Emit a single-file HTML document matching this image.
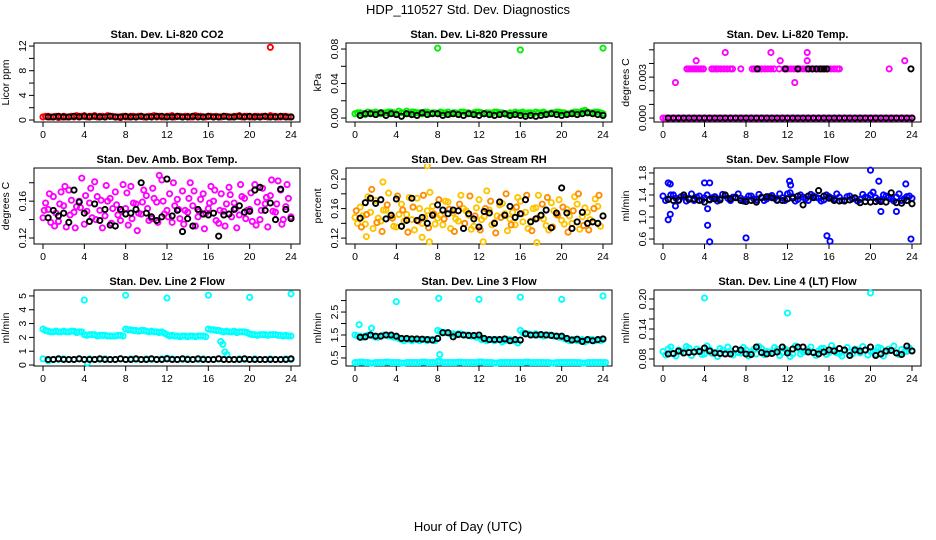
<!DOCTYPE html>
<html><head><meta charset="utf-8"><style>
body{margin:0;background:#fff}
svg{display:block;font-family:"Liberation Sans",Arial,sans-serif}
</style></head><body>
<svg id="chart" width="936" height="540" viewBox="0 0 936 540" xmlns="http://www.w3.org/2000/svg">
<rect width="936" height="540" fill="#fff"/>
<text x="468" y="14" font-size="13" text-anchor="middle">HDP_110527  Std. Dev. Diagnostics</text>
<text x="468" y="531" font-size="13" text-anchor="middle">Hour of Day (UTC)</text>
</svg>
<script>
// ---- data ----
const co2A=[0.5,0.6,0.5,0.4,0.6,0.5,0.5,0.6,0.7,0.6,0.7,0.6,0.5,0.6,0.5,0.4,0.5,0.6,0.5,0.6,0.5,0.6,0.5,0.5,0.6,0.7,0.6,0.5,0.6,0.5,0.6,0.5,0.6,0.5,0.5,0.6,0.5,0.6,0.7,0.6,0.5,0.6,0.5,0.6,0.7,0.6,0.5,0.6,0.5];
const co2B=[0.6,0.5,0.6,0.5,0.5,0.6,0.7,0.6,0.5,0.6,0.5,0.6,0.7,0.6,0.5,0.6,0.5,0.6,0.6,0.5,0.6,0.7,0.6,0.5,0.6,0.5,0.6,0.6,0.5,0.7,0.6,0.5,0.6,0.6,0.5,0.6,0.5,0.6,0.5,0.6,0.5,0.6,0.6,0.5,0.6,0.5,0.6,0.5];
const co2Black=[0.5,0.5,0.6,0.5,0.5,0.6,0.5,0.6,0.5,0.6,0.5,0.5,0.6,0.5,0.5,0.6,0.5,0.5,0.6,0.5,0.5,0.6,0.6,0.5,0.5,0.6,0.5,0.5,0.6,0.5,0.5,0.6,0.5,0.5,0.6,0.5,0.5,0.6,0.5,0.6,0.5,0.5,0.6,0.5,0.5,0.6,0.5,0.5];
const co2OutH=[22], co2OutV=[11.8];

const prsA=[0.005,0.006,0.004,0.006,0.007,0.005,0.006,0.007,0.005,0.006,0.008,0.007,0.006,0.005,0.007,0.006,0.005,0.006,0.007,0.006,0.005,0.007,0.006,0.006,0.007,0.005,0.006,0.007,0.006,0.005,0.006,0.007,0.006,0.005,0.006,0.007,0.006,0.005,0.006,0.007,0.006,0.005,0.006,0.007,0.008,0.007,0.006,0.007,0.005];
const prsB=[0.006,0.005,0.007,0.006,0.005,0.006,0.007,0.006,0.008,0.006,0.005,0.007,0.006,0.007,0.005,0.006,0.007,0.006,0.005,0.006,0.007,0.006,0.005,0.007,0.006,0.006,0.005,0.007,0.006,0.004,0.005,0.006,0.007,0.006,0.005,0.006,0.007,0.005,0.006,0.007,0.006,0.005,0.007,0.006,0.009,0.006,0.007,0.006];
const prsBlack=[0.003,0.005,0.005,0.004,0.006,0.003,0.005,0.004,0.002,0.005,0.004,0.003,0.006,0.004,0.005,0.005,0.003,0.004,0.005,0.004,0.003,0.005,0.004,0.003,0.005,0.004,0.003,0.004,0.005,0.003,0.004,0.003,0.002,0.003,0.002,0.003,0.004,0.005,0.004,0.003,0.004,0.005,0.004,0.005,0.006,0.005,0.004,0.003];
const prsOutH=[8,16,24], prsOutV=[0.081,0.079,0.081];

const tmpA=new Array(49).fill(0);
const tmpB=new Array(48).fill(0);
const tmpHighH=[2.3,2.5,2.7,2.9,3.1,3.3,3.5,3.7,3.9,4.7,4.9,5.1,5.3,5.6,5.9,6.2,6.5,6.7,7.5,8.6,8.8,9.0,9.3,9.5,9.8,10.1,10.4,10.7,11.2,11.7,12.0,12.3,12.6,12.9,13.2,13.5,13.8,14.1,14.4,14.7,15.0,15.3,15.6,15.9,16.2,16.5,16.8,17.0,21.8];
const tmpHighV=0.0036;
const tmpOutH=[1.2,3.2,6.0,10.4,11.3,12.7,13.9,13.9,23.3];
const tmpOutV=[0.0026,0.0042,0.0048,0.0048,0.0042,0.0026,0.0048,0.0042,0.0042];
const tmpBlack=new Array(48).fill(0);
const tmpBlackHighH=[9.1,11.8,13.0,14.0,14.4,14.8,15.2,15.5,15.8,23.9];

const ambA=[0.142,0.151,0.165,0.138,0.155,0.172,0.148,0.160,0.135,0.158,0.181,0.150,0.144,0.163,0.170,0.139,0.152,0.176,0.157,0.146,0.166,0.141,0.159,0.183,0.150,0.137,0.162,0.171,0.148,0.155,0.143,0.168,0.152,0.160,0.136,0.149,0.175,0.158,0.145,0.163,0.151,0.178,0.140,0.157,0.166,0.148,0.172,0.154,0.143];
const ambB=[0.158,0.137,0.147,0.170,0.132,0.161,0.154,0.185,0.149,0.142,0.165,0.131,0.160,0.152,0.145,0.178,0.134,0.158,0.147,0.172,0.139,0.163,0.188,0.146,0.168,0.155,0.141,0.150,0.180,0.133,0.162,0.147,0.176,0.139,0.168,0.157,0.143,0.131,0.165,0.150,0.138,0.159,0.174,0.132,0.149,0.182,0.140,0.163];
const ambC=[0.150,0.168,0.133,0.157,0.176,0.145,0.131,0.153,0.166,0.174,0.140,0.161,0.177,0.136,0.156,0.149,0.169,0.141,0.128,0.159,0.152,0.174,0.137,0.160,0.143,0.180,0.151,0.135,0.163,0.171,0.149,0.130,0.158,0.172,0.150,0.133,0.167,0.152,0.178,0.141,0.169,0.134,0.150,0.164,0.183,0.157,0.135,0.178];
const ambBlack=[0.142,0.150,0.144,0.147,0.137,0.172,0.159,0.147,0.138,0.157,0.139,0.151,0.134,0.133,0.151,0.146,0.147,0.151,0.180,0.147,0.143,0.139,0.143,0.184,0.144,0.150,0.127,0.141,0.133,0.151,0.146,0.145,0.147,0.122,0.145,0.146,0.151,0.155,0.148,0.149,0.172,0.175,0.150,0.158,0.140,0.173,0.151,0.141];

const rhA=[0.148,0.162,0.139,0.155,0.171,0.143,0.158,0.150,0.135,0.166,0.152,0.145,0.174,0.140,0.157,0.163,0.147,0.138,0.169,0.154,0.143,0.160,0.151,0.136,0.172,0.149,0.158,0.141,0.165,0.153,0.146,0.138,0.170,0.155,0.143,0.161,0.150,0.137,0.168,0.152,0.144,0.159,0.140,0.166,0.149,0.155,0.142,0.163,0.150];
const rhB=[0.140,0.150,0.176,0.133,0.147,0.158,0.181,0.136,0.152,0.143,0.175,0.131,0.160,0.148,0.182,0.139,0.151,0.170,0.133,0.146,0.178,0.157,0.132,0.161,0.145,0.184,0.138,0.150,0.167,0.130,0.155,0.175,0.142,0.133,0.160,0.178,0.146,0.131,0.157,0.172,0.139,0.150,0.176,0.132,0.161,0.145,0.173,0.136];
const rhC=[0.157,0.135,0.152,0.186,0.141,0.129,0.165,0.147,0.177,0.158,0.128,0.162,0.143,0.178,0.134,0.153,0.172,0.146,0.159,0.129,0.166,0.140,0.177,0.150,0.131,0.160,0.170,0.127,0.148,0.180,0.138,0.162,0.153,0.178,0.130,0.147,0.166,0.175,0.135,0.151,0.162,0.128,0.157,0.180,0.137,0.131,0.160,0.178];
const rhOutH=[7.0,2.7,1.1,7.2,12.4,17.6,6.5];
const rhOutV=[0.218,0.196,0.122,0.115,0.115,0.114,0.121];
const rhBlack=[0.147,0.168,0.174,0.167,0.172,0.146,0.151,0.173,0.136,0.144,0.174,0.144,0.148,0.140,0.151,0.165,0.158,0.153,0.158,0.157,0.133,0.153,0.146,0.135,0.156,0.154,0.140,0.169,0.151,0.163,0.148,0.153,0.172,0.142,0.146,0.151,0.158,0.134,0.154,0.188,0.154,0.133,0.142,0.155,0.140,0.142,0.140,0.150];

const sfA=[1.38,1.32,1.40,1.30,1.36,1.34,1.30,1.38,1.35,1.31,1.37,1.33,1.39,1.30,1.36,1.34,1.32,1.38,1.31,1.36,1.33,1.39,1.30,1.35,1.42,1.37,1.32,1.36,1.30,1.38,1.34,1.31,1.37,1.33,1.36,1.30,1.38,1.34,1.32,1.36,1.40,1.35,1.31,1.38,1.33,1.36,1.30,1.37,1.34];
const sfB=[1.30,1.40,1.34,1.37,1.29,1.42,1.36,1.31,1.40,1.35,1.29,1.41,1.34,1.36,1.42,1.29,1.38,1.33,1.41,1.30,1.37,1.34,1.42,1.30,1.44,1.29,1.40,1.33,1.41,1.36,1.29,1.40,1.34,1.42,1.30,1.37,1.33,1.29,1.41,1.35,1.45,1.31,1.40,1.36,1.29,1.42,1.33,1.38];
const sfOutH=[0.5,0.7,0.5,0.7,4.0,4.5,4.3,4.5,4.3,8.0,12.2,12.3,15.8,16.1,20.0,20.8,21.0,22.5,23.4,23.9,1.2];
const sfOutV=[0.95,1.05,1.62,1.60,1.62,1.62,0.85,0.55,1.15,0.62,1.65,1.58,0.66,0.56,1.85,1.65,1.10,1.10,1.60,0.60,1.20];
const sfBlack=[1.32,1.30,1.31,1.40,1.32,1.33,1.30,1.27,1.32,1.33,1.31,1.40,1.33,1.35,1.30,1.28,1.30,1.27,1.35,1.37,1.35,1.31,1.30,1.33,1.34,1.38,1.22,1.38,1.35,1.48,1.38,1.34,1.30,1.29,1.29,1.31,1.35,1.26,1.28,1.27,1.28,1.28,1.27,1.44,1.26,1.25,1.30,1.24];

const l2A=[2.6,2.45,2.4,2.4,2.45,2.4,2.45,2.4,2.2,2.2,2.2,2.15,2.15,2.1,2.1,2.15,2.6,2.55,2.5,2.5,2.45,2.45,2.4,2.4,2.2,2.15,2.1,2.1,2.05,2.1,2.1,2.1,2.6,2.55,2.5,2.4,2.4,2.45,2.4,2.4,2.25,2.2,2.2,2.2,2.2,2.2,2.15,2.15,2.1];
const l2B=[2.5,2.4,2.45,2.4,2.4,2.45,2.35,2.4,2.15,2.2,2.1,2.15,2.1,2.1,2.15,2.1,2.55,2.5,2.45,2.5,2.4,2.4,2.35,2.3,2.1,2.1,2.05,2.1,2.1,2.05,2.1,2.05,2.55,2.5,2.45,2.45,2.4,2.35,2.4,2.35,2.2,2.15,2.2,2.15,2.2,2.15,2.1,2.1];
const l2Low=[0.45,0.3,0.4,0.4,0.45,0.4,0.4,0.45,0.4,0.45,0.4,0.4,0.45,0.4,0.4,0.45,0.4,0.45,0.4,0.4,0.45,0.4,0.4,0.45,0.5,0.45,0.4,0.4,0.45,0.4,0.4,0.45,0.4,0.4,0.45,0.4,0.4,0.4,0.45,0.4,0.4,0.45,0.4,0.4,0.45,0.4,0.4,0.45,0.4];
const l2OutH=[4,8,12,16,20,24,17.2,17.4,17.6,17.8,4.3];
const l2OutV=[4.7,5.05,4.85,5.05,4.9,5.15,1.7,1.5,0.95,0.75,0.15];
const l2Black=[0.4,0.4,0.45,0.4,0.4,0.4,0.45,0.4,0.4,0.4,0.45,0.4,0.4,0.4,0.45,0.4,0.4,0.45,0.4,0.4,0.45,0.4,0.4,0.45,0.4,0.4,0.45,0.4,0.4,0.45,0.4,0.4,0.4,0.45,0.4,0.4,0.4,0.4,0.45,0.4,0.4,0.4,0.4,0.4,0.4,0.4,0.4,0.45];

const l3A=[1.5,1.45,1.45,1.5,1.4,1.45,1.5,1.45,1.4,1.3,1.3,1.25,1.3,1.3,1.25,1.3,1.7,1.6,1.6,1.55,1.55,1.5,1.5,1.45,1.4,1.3,1.3,1.25,1.3,1.25,1.3,1.25,1.7,1.55,1.5,1.55,1.5,1.5,1.5,1.45,1.4,1.3,1.3,1.25,1.3,1.25,1.3,1.3,1.3];
const l3B=[1.45,1.4,1.5,1.45,1.4,1.5,1.45,1.4,1.35,1.25,1.3,1.3,1.25,1.3,1.3,1.25,1.65,1.6,1.55,1.5,1.55,1.5,1.45,1.4,1.3,1.25,1.3,1.3,1.2,1.3,1.25,1.15,1.6,1.55,1.5,1.5,1.45,1.5,1.45,1.4,1.35,1.25,1.3,1.25,1.2,1.3,1.25,1.25];
const l3Low=[0.3,0.32,0.3,0.28,0.3,0.3,0.32,0.3,0.3,0.28,0.3,0.3,0.3,0.32,0.3,0.3,0.35,0.3,0.3,0.3,0.32,0.3,0.3,0.3,0.33,0.3,0.3,0.28,0.3,0.3,0.3,0.3,0.3,0.32,0.3,0.3,0.3,0.3,0.28,0.3,0.3,0.3,0.3,0.3,0.28,0.3,0.3,0.3,0.3];
const l3OutH=[0.4,1.6,4,8.1,12,16,20,24,8.2];
const l3OutV=[1.95,1.8,2.95,3.1,3.05,3.15,3.05,3.2,0.65];
const l3Black=[1.4,1.42,1.5,1.45,1.45,1.5,1.5,1.45,1.35,1.35,1.33,1.33,1.32,1.3,1.28,1.35,1.6,1.6,1.42,1.52,1.5,1.48,1.48,1.5,1.35,1.3,1.3,1.3,1.33,1.25,1.3,1.28,1.55,1.5,1.5,1.52,1.5,1.48,1.45,1.45,1.35,1.28,1.32,1.22,1.3,1.25,1.3,1.33];

const l4A=[0.095,0.100,0.090,0.098,0.092,0.102,0.094,0.097,0.090,0.099,0.093,0.101,0.091,0.096,0.100,0.092,0.098,0.094,0.090,0.101,0.095,0.092,0.099,0.093,0.097,0.090,0.102,0.094,0.098,0.092,0.096,0.101,0.093,0.099,0.091,0.097,0.094,0.100,0.092,0.098,0.095,0.090,0.101,0.094,0.098,0.092,0.099,0.095,0.097];
const l4B=[0.088,0.104,0.086,0.095,0.105,0.087,0.100,0.089,0.106,0.091,0.085,0.097,0.104,0.088,0.093,0.103,0.086,0.099,0.105,0.089,0.094,0.103,0.087,0.100,0.085,0.106,0.090,0.096,0.104,0.087,0.101,0.089,0.107,0.092,0.086,0.103,0.090,0.098,0.105,0.088,0.095,0.103,0.086,0.100,0.106,0.089,0.094,0.102];
const l4OutH=[4,12,20], l4OutV=[0.202,0.172,0.212];
const l4Black=[0.090,0.091,0.096,0.092,0.093,0.094,0.095,0.102,0.096,0.092,0.091,0.090,0.090,0.100,0.098,0.090,0.089,0.104,0.093,0.090,0.091,0.094,0.104,0.092,0.100,0.104,0.104,0.094,0.093,0.090,0.094,0.098,0.096,0.101,0.098,0.087,0.098,0.096,0.098,0.104,0.087,0.090,0.096,0.097,0.092,0.089,0.106,0.096];

const xTicks=[0,4,8,12,16,20,24];

// ---- drawing ----
const NS='http://www.w3.org/2000/svg';
const svg=document.getElementById('chart');
function mk(tag,attrs,parent){const e=document.createElementNS(NS,tag);for(const k in attrs)e.setAttribute(k,attrs[k]);(parent||svg).appendChild(e);return e;}
const cols=[[34,300],[346,612],[654,921]];
const rows=[[43,122],[168,244],[290,366]];

function panel(p){
  const [bx0,bx1]=cols[p.c],[by0,by1]=rows[p.r];
  const g=mk('g',{});
  
  
  const sx=h=>bx0+9+h/24*(bx1-bx0-18);
  const sy=v=>by1-(v-p.ymin)/(p.ymax-p.ymin)*(by1-by0);
  const t=mk('text',{x:(bx0+bx1)/2,y:by0-5,'font-size':11,'font-weight':'bold','text-anchor':'middle'},g);
  t.textContent=p.title;
  
  
  const b=mk('rect',{x:bx0,y:by0,width:bx1-bx0,height:by1-by0,fill:'none',stroke:'#000','stroke-width':1},g);
  
  
  xTicks.forEach(h=>{
    mk('line',{x1:sx(h),x2:sx(h),y1:by1,y2:by1+5,stroke:'#000'},g);
    const l=mk('text',{x:sx(h),y:by1+16,'font-size':10.5,'text-anchor':'middle'},g);
    l.textContent=h;
    
    
  });
  p.yTicks.forEach(v=>mk('line',{x1:bx0-5,x2:bx0,y1:sy(v),y2:sy(v),stroke:'#000'},g));
  p.yLabels.forEach((v,i)=>{
    const y=sy(v),x=bx0-8;
    const l=mk('text',{x:x,y:y,'font-size':10.5,'text-anchor':'middle',transform:`rotate(-90 ${x} ${y})`},g);
    l.textContent=p.yLabelText[i];
    
    
  });
  const ax=bx0-25,ay=(by0+by1)/2;
  const yt=mk('text',{x:ax,y:ay,'font-size':10.5,'text-anchor':'middle',transform:`rotate(-90 ${ax} ${ay})`},g);
  yt.textContent=p.unit;
  
  
  const clip='clip'+p.r+p.c;
  const cp=mk('clipPath',{id:clip},g);mk('rect',{x:bx0,y:by0-4,width:bx1-bx0,height:by1-by0+8},cp);
  const pts=mk('g',{'clip-path':`url(#${clip})`},g);
  function dot(h,v,col){
    const c=mk('circle',{cx:sx(h),cy:sy(v),r:2.6,fill:'none',stroke:col,'stroke-width':1.9},pts);
    
    
  }
  p.series.forEach(s=>{
    if(s.vals) s.vals.forEach((v,i)=>dot(s.x0+i*s.dx,v,s.col));
    if(s.hs) s.hs.forEach((h,i)=>dot(h,Array.isArray(s.vs)?s.vs[i]:s.vs,s.col));
  });
}
const K='#000';
function std(col,A,B,Bl,oh,ov,extra){
  const s=[{vals:A,x0:0,dx:0.5,col:col},{vals:B,x0:0.25,dx:0.5,col:col}];
  (extra||[]).forEach(e=>s.push(e));
  s.push({hs:oh,vs:ov,col:col});
  s.push({vals:Bl,x0:0.5,dx:0.5,col:K});
  return s;
}
panel({name:'panel-co2',r:0,c:0,title:'Stan. Dev. Li-820 CO2',unit:'Licor ppm',ymin:-0.32,ymax:12.5,
  yTicks:[0,2,4,6,8,10,12],yLabels:[0,4,8,12],yLabelText:['0','4','8','12'],
  series:std('#ff0000',co2A,co2B,co2Black,co2OutH,co2OutV)});
panel({name:'panel-pressure',r:0,c:1,title:'Stan. Dev. Li-820 Pressure',unit:'kPa',ymin:-0.0046,ymax:0.087,
  yTicks:[0,0.02,0.04,0.06,0.08],yLabels:[0,0.04,0.08],yLabelText:['0.00','0.04','0.08'],
  series:std('#00ee00',prsA,prsB,prsBlack,prsOutH,prsOutV)});
panel({name:'panel-temp',r:0,c:2,title:'Stan. Dev. Li-820 Temp.',unit:'degrees C',ymin:-0.00029,ymax:0.0055,
  yTicks:[0,0.001,0.002,0.003,0.004,0.005],yLabels:[0,0.003],yLabelText:['0.000','0.003'],
  series:std('#ff00ff',tmpA,tmpB,tmpBlack,tmpOutH,tmpOutV,[{hs:tmpHighH,vs:tmpHighV,col:'#ff00ff'}]).concat([{hs:tmpBlackHighH,vs:tmpHighV,col:K}])});
panel({name:'panel-amb-temp',r:1,c:0,title:'Stan. Dev. Amb. Box Temp.',unit:'degrees C',ymin:0.1135,ymax:0.196,
  yTicks:[0.12,0.14,0.16,0.18],yLabels:[0.12,0.16],yLabelText:['0.12','0.16'],
  series:std('#ff00ff',ambA,ambB,ambBlack,[],[],[{vals:ambC,x0:0.12,dx:0.5,col:'#ff00ff'}])});
panel({name:'panel-rh',r:1,c:1,title:'Stan. Dev. Gas Stream RH',unit:'percent',ymin:0.112,ymax:0.215,
  yTicks:[0.12,0.14,0.16,0.18,0.20],yLabels:[0.12,0.16,0.20],yLabelText:['0.12','0.16','0.20'],
  series:std('#ffc400',rhA,rhB,rhBlack,rhOutH,rhOutV,[{vals:rhC,x0:0.12,dx:0.5,col:'#ff8c00'}])});
panel({name:'panel-sample-flow',r:1,c:2,title:'Stan. Dev. Sample Flow',unit:'ml/min',ymin:0.51,ymax:1.89,
  yTicks:[0.6,0.8,1.0,1.2,1.4,1.6,1.8],yLabels:[0.6,1.0,1.4,1.8],yLabelText:['0.6','1.0','1.4','1.8'],
  series:std('#0000ff',sfA,sfB,sfBlack,sfOutH,sfOutV)});
panel({name:'panel-line2',r:2,c:0,title:'Stan. Dev. Line 2 Flow',unit:'ml/min',ymin:-0.07,ymax:5.43,
  yTicks:[0,1,2,3,4,5],yLabels:[0,1,2,3,4,5],yLabelText:['0','1','2','3','4','5'],
  series:std('#00ffff',l2A,l2B,l2Black,l2OutH,l2OutV,[{vals:l2Low,x0:0,dx:0.5,col:'#00ffff'}])});
panel({name:'panel-line3',r:2,c:1,title:'Stan. Dev. Line 3 Flow',unit:'ml/min',ymin:0.15,ymax:3.46,
  yTicks:[0.5,1.0,1.5,2.0,2.5,3.0],yLabels:[0.5,1.5,2.5],yLabelText:['0.5','1.5','2.5'],
  series:std('#00ffff',l3A,l3B,l3Black,l3OutH,l3OutV,[{vals:l3Low,x0:0,dx:0.5,col:'#00ffff'},{vals:l3Low,x0:0.25,dx:0.5,col:'#00ffff'}])});
panel({name:'panel-line4',r:2,c:2,title:'Stan. Dev. Line 4 (LT) Flow',unit:'ml/min',ymin:0.066,ymax:0.218,
  yTicks:[0.08,0.10,0.12,0.14,0.16,0.18,0.20],yLabels:[0.08,0.14,0.20],yLabelText:['0.08','0.14','0.20'],
  series:std('#00ffff',l4A,l4B,l4Black,l4OutH,l4OutV)});
</script>
</body></html>
